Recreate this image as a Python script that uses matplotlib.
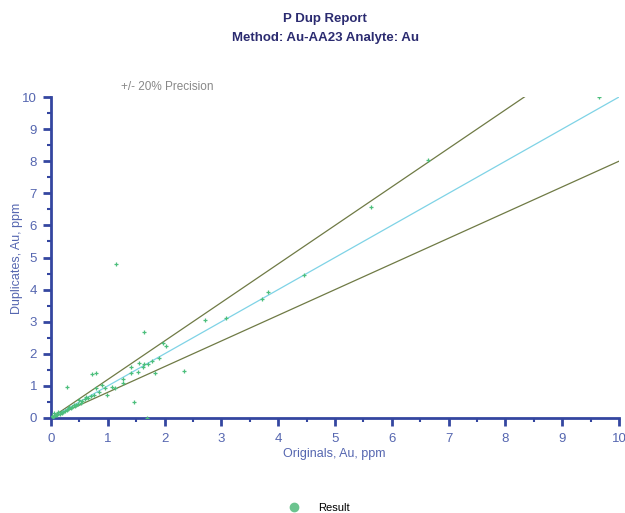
import matplotlib
matplotlib.use("Agg")
import matplotlib.pyplot as plt
from matplotlib.ticker import MultipleLocator
from matplotlib.lines import Line2D

plt.rcParams['font.family'] = ['Liberation Sans', 'DejaVu Sans']

# Data: originals vs duplicates (Au, ppm)
originals = [9.65, 6.64, 5.63, 4.45, 3.82, 3.71, 3.08, 2.71, 2.34, 2.02, 1.97,
             1.90, 1.83, 1.78, 1.71, 1.69, 1.64, 1.64, 1.62, 1.55, 1.53, 1.46,
             1.41, 1.41, 1.27, 1.27, 1.15, 1.13, 1.07, 0.99, 0.95, 0.90, 0.79,
             0.72, 0.85, 0.80, 0.75, 0.70, 0.65, 0.60, 0.55, 0.50, 0.47, 0.44,
             0.40, 0.37, 0.35, 0.32, 0.30, 0.28, 0.28, 0.25, 0.22, 0.20, 0.18,
             0.15, 0.12, 0.10, 0.08, 0.06, 0.05, 0.03, 0.02, 0.62, 0.52, 0.42]
duplicates = [10.0, 8.03, 6.57, 4.45, 3.93, 3.71, 3.11, 3.05, 1.47, 2.24, 2.33,
              1.87, 1.40, 1.78, 1.68, 0.00, 2.68, 1.68, 1.59, 1.71, 1.43, 0.50,
              1.59, 1.40, 1.21, 1.09, 4.80, 0.93, 0.97, 0.72, 0.93, 1.03, 1.40,
              1.37, 0.80, 0.95, 0.72, 0.68, 0.62, 0.58, 0.52, 0.55, 0.45, 0.40,
              0.42, 0.35, 0.30, 0.33, 0.27, 0.97, 0.25, 0.22, 0.20, 0.15, 0.20,
              0.12, 0.18, 0.08, 0.10, 0.05, 0.15, 0.02, 0.05, 0.66, 0.48, 0.38]

line_x = [0, 10]
precision = 0.20

x_label = "Originals, Au, ppm"
y_label = "Duplicates, Au, ppm"

fig = plt.figure(figsize=(6.25, 5.13), dpi=100)
ax = fig.add_axes([51/625, 1-418/513, (619-51)/625, (418-97)/513])

axis_blue = '#3446a0'
label_blue = '#5566b0'
olive = '#6f7a45'

ax.plot(line_x, [v * (1 + precision) for v in line_x], color=olive, lw=0.9, zorder=2)
ax.plot(line_x, [v * (1 - precision) for v in line_x], color=olive, lw=0.9, zorder=2)
ax.plot(line_x, line_x, color='#7fd3e6', lw=0.9, zorder=2)
ax.scatter(originals, duplicates, marker='+', s=10, color='#4cbf7c', linewidths=0.9, zorder=3)

ax.set_xlim(0, 10)
ax.set_ylim(0, 10)
ax.xaxis.set_major_locator(MultipleLocator(1))
ax.xaxis.set_minor_locator(MultipleLocator(0.5))
ax.yaxis.set_major_locator(MultipleLocator(1))
ax.yaxis.set_minor_locator(MultipleLocator(0.5))

for s in ['top', 'right']:
    ax.spines[s].set_visible(False)
for s in ['left', 'bottom']:
    ax.spines[s].set_color(axis_blue)
    ax.spines[s].set_linewidth(2)

ax.tick_params(which='major', direction='out', length=6, width=2, color=axis_blue,
               labelcolor=label_blue, labelsize=9.5)
ax.tick_params(axis='x', which='major', pad=5)
ax.tick_params(axis='y', which='major', pad=4)
ax.tick_params(which='minor', direction='out', length=3, width=1.5, color=axis_blue)

ax.set_xlabel(x_label, color=label_blue, fontsize=9)
ax.set_ylabel(y_label, color=label_blue, fontsize=9)
ax.xaxis.set_label_coords((334-51)/568, -(448-418)/321)
ax.yaxis.set_label_coords(-(51-23)/568, (418-258)/321)

fig.text(0.52, 1-19/513, "P Dup Report", ha='center', va='center', fontsize=9.5,
         fontweight='bold', color='#2b2b70')
fig.text(0.52, 1-38/513, "Method: Au-AA23 Analyte: Au", ha='center', va='center',
         fontsize=9.5, fontweight='bold', color='#2b2b70')
fig.text(121/625, 1-87/513, "+/- 20% Precision", ha='left', va='center',
         fontsize=8.5, color='#888888')

handle = Line2D([], [], marker='o', linestyle='none', markersize=6,
                markerfacecolor='#6cc48f', markeredgecolor='#6cc48f')
fig.legend([handle], ['Result'], loc='center', bbox_to_anchor=(316/625, 1-508/513),
           frameon=False, fontsize=8, handletextpad=1.2)

fig.savefig('out.png', dpi=100)
